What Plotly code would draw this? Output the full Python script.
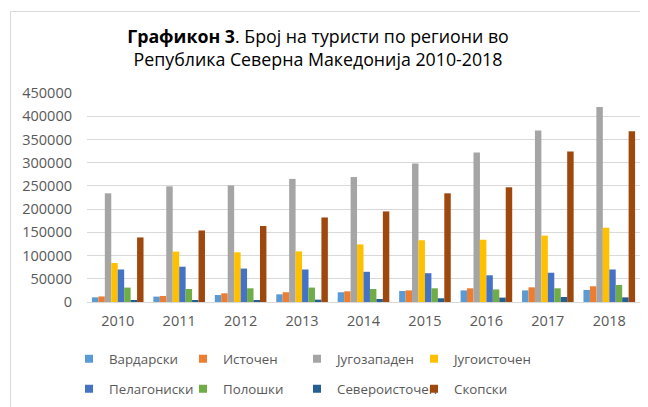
import plotly.graph_objects as go

years = ["2010", "2011", "2012", "2013", "2014", "2015", "2016", "2017", "2018"]

vardarski      = [10000, 11600, 15000, 16500, 21000, 23700, 25000, 25000, 26000]
istochen       = [12000, 13000, 18700, 21000, 23000, 25000, 29500, 31600, 33800]
jugozapaden    = [234000, 249000, 251000, 265000, 269000, 298000, 322000, 369000, 420000]
jugoistochen   = [84000, 108500, 107000, 109000, 124000, 133000, 134000, 143000, 160000]
pelagoniski    = [70000, 76000, 72000, 70000, 65000, 62000, 57500, 63000, 70000]
poloshki       = [31000, 28000, 29500, 31000, 28000, 29500, 27000, 29500, 36600]
severoistochen = [3000, 3500, 3700, 5000, 6500, 8000, 9500, 10800, 10000]
skopski        = [139000, 154000, 163600, 182000, 195000, 234000, 247000, 324000, 367500]

series_names = ["Вардарски", "Источен", "Југозападен", "Југоисточен",
                "Пелагониски", "Полошки", "Североисточен", "Скопски"]
series_values = [vardarski, istochen, jugozapaden, jugoistochen,
                 pelagoniski, poloshki, severoistochen, skopski]
colors = ["#5B9BD5", "#ED7D31", "#A5A5A5", "#FFC000",
          "#4472C4", "#70AD47", "#255E91", "#9E480E"]

FONT = "Open Sans"
GRAY = "#595959"

# The page body adds an 8px offset; figure is sized 640x399 to fit the window.
W, H = 640, 399
OFF = 8

# legend text positions (window px)
leg_text_x = [109, 223, 337, 454]
leg_row_y = [359, 389]

fig = go.Figure()
for name, vals, col in zip(series_names, series_values, colors):
    fig.add_trace(go.Bar(
        x=years, y=vals, name=name, marker_color=col, marker_line_width=0,
        showlegend=False,
    ))

layout_legends = {}
for i, (name, col) in enumerate(zip(series_names, colors)):
    key = "legend" if i == 0 else f"legend{i + 1}"
    fig.add_trace(go.Scatter(
        x=[None], y=[None], mode="markers", name=name,
        marker=dict(symbol="square", size=8, color=col),
        legend=key, hoverinfo="skip",
    ))
    r, c = divmod(i, 4)
    layout_legends[key] = dict(
        orientation="h", xref="container", yref="container",
        xanchor="left", yanchor="middle",
        x=(leg_text_x[c] - 40 - OFF) / W,
        y=1 - (leg_row_y[r] - OFF) / H,
        font=dict(family=FONT, size=13.3, color=GRAY),
        itemwidth=30, bgcolor="rgba(0,0,0,0)",
    )

fig.update_layout(
    width=W, height=H,
    paper_bgcolor="white", plot_bgcolor="white",
    margin=dict(l=79, r=8, t=85, b=105, autoexpand=False),
    barmode="group", bargap=0.16, bargroupgap=0,
    title=dict(
        text="<b>Графикон 3</b>. Број на туристи по региони во<br>Република Северна Македонија 2010-2018",
        x=310 / W, xanchor="center", xref="container",
        y=1 - 34.5 / H, yanchor="middle", yref="container",
        font=dict(family=FONT, size=17.8, color="#000000"),
    ),
    xaxis=dict(
        showgrid=False, showline=True, linecolor="#D9D9D9", linewidth=1,
        ticks="", tickfont=dict(family=FONT, size=14.5, color=GRAY),
        ticklabelstandoff=6, automargin=False,
    ),
    yaxis=dict(
        range=[0, 450000], dtick=50000, tickformat="d",
        showgrid=True, gridcolor="#D9D9D9", gridwidth=1,
        zeroline=False, showline=False, ticks="",
        tickfont=dict(family=FONT, size=14.5, color=GRAY),
        ticklabelstandoff=14, automargin=False,
    ),
    shapes=[dict(type="rect", xref="paper", yref="paper",
                 x0=(2.5 - 79) / 553, x1=(660 - 79) / 553,
                 y0=-(420 - 294) / 209, y1=1 + (85 - 3.5) / 209,
                 line=dict(color="#D9D9D9", width=1), layer="below")],
    **layout_legends,
)

fig.write_html("out.html")
